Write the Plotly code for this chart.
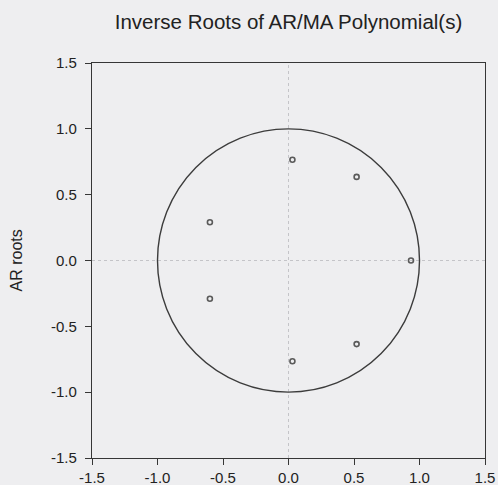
import plotly.graph_objects as go

root_real = [0.03, 0.52, -0.60, 0.935, -0.60, 0.52, 0.03]
root_imag = [0.765, 0.635, 0.29, 0.0, -0.29, -0.635, -0.765]

tick_vals = [-1.5, -1.0, -0.5, 0.0, 0.5, 1.0, 1.5]
tick_text = ["-1.5", "-1.0", "-0.5", "0.0", "0.5", "1.0", "1.5"]

title_text = "Inverse Roots of AR/MA Polynomial(s)"
y_title = "AR roots"

BG = "#eeeef0"
INK = "#222222"
AXIS = "#363636"
FONT = "Liberation Sans, Arial, sans-serif"

fig = go.Figure()

# zero reference lines (dotted, faint)
fig.add_shape(type="line", xref="x", yref="y", x0=0, x1=0, y0=-1.5, y1=1.5,
              line=dict(color="#c4c4c8", width=1, dash="dot"), layer="below")
fig.add_shape(type="line", xref="x", yref="y", x0=-1.5, x1=1.5, y0=0, y1=0,
              line=dict(color="#c4c4c8", width=1, dash="dot"), layer="below")
# unit circle
fig.add_shape(type="circle", xref="x", yref="y", x0=-1, y0=-1, x1=1, y1=1,
              line=dict(color="#3c3c3c", width=1.4))

fig.add_trace(go.Scatter(
    x=root_real, y=root_imag, mode="markers",
    marker=dict(symbol="circle-open", size=5, color="#5a5a5a", line=dict(width=1.6)),
    showlegend=False, hoverinfo="x+y"))

axis_common = dict(
    range=[-1.5, 1.5], tickvals=tick_vals, ticktext=tick_text,
    showgrid=False, zeroline=False, showline=True, mirror=True,
    linecolor=AXIS, linewidth=1.3, ticks="outside", ticklen=6,
    tickcolor=AXIS, tickwidth=1.3, automargin=False,
    tickfont=dict(family=FONT, size=15, color=INK),
)

fig.update_layout(
    width=498, height=485,
    margin=dict(l=92, r=13, t=63, b=27),
    paper_bgcolor=BG, plot_bgcolor=BG,
    title=dict(text=title_text, x=0.5, xref="paper", xanchor="center",
               y=1 - 22 / 485, yref="container", yanchor="middle",
               font=dict(family=FONT, size=20.5, color=INK)),
    xaxis=dict(**axis_common, ticklabelstandoff=0),
    yaxis=dict(**axis_common, ticklabelstandoff=5),
    annotations=[dict(text=y_title, xref="paper", yref="paper",
                      x=(16 - 92) / 393, y=0.5, xanchor="center", yanchor="middle",
                      textangle=-90, showarrow=False,
                      font=dict(family=FONT, size=16, color=INK))],
)

fig.write_html(
    "out.html",
    config={"displayModeBar": False},
    post_script="document.body.style.margin='0';document.body.style.background='%s';"
                "document.body.style.overflow='hidden';" % BG,
)
